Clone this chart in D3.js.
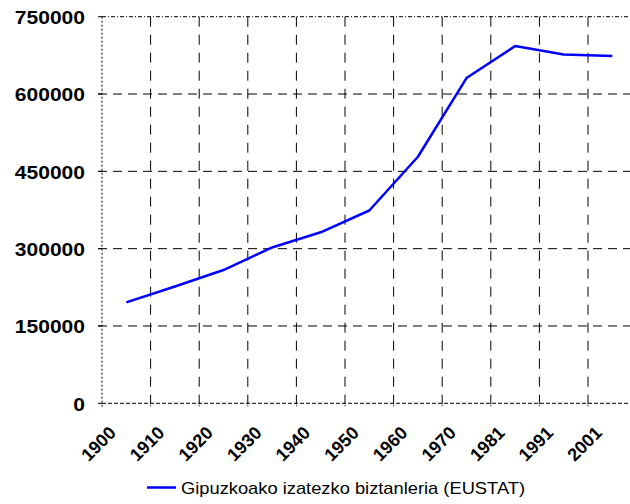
<!DOCTYPE html>
<html><head><meta charset="utf-8">
<script src="https://cdn.jsdelivr.net/npm/d3@7"></script>
<style>html,body{margin:0;padding:0;background:#fff;overflow:hidden}svg{display:block}</style>
</head><body>
<svg id="c" width="630" height="504"></svg>
<script>
const years = ["1900","1910","1920","1930","1940","1950","1960","1970","1981","1991","2001"];
const population = [195850, 226684, 258557, 302329, 331753, 374040, 478337, 631003, 692986, 676488, 673563];
const yTicks = [0, 150000, 300000, 450000, 600000, 750000];
const seriesName = "Gipuzkoako izatezko biztanleria (EUSTAT)";

const svg = d3.select("#c");
const pLeft = 102, pTop = 16.7, pBottom = 403.3, step = 48.6;
const x = d3.scaleBand().domain(years).range([pLeft, pLeft + step * years.length]).padding(0);
const y = d3.scaleLinear().domain([0, 750000]).range([pBottom, pTop]);
const cx = d => x(d) + x.bandwidth() / 2;

const g = svg.append("g");
// horizontal grid
g.selectAll("line.hg").data(yTicks.filter(t => t > 0 && t < 750000)).join("line")
  .attr("x1", pLeft - 4).attr("x2", 630).attr("y1", d => y(d)).attr("y2", d => y(d))
  .attr("stroke", "#000").attr("stroke-width", 1).attr("stroke-dasharray", "9,6");
// vertical grid
const vx = years.slice(1).map(d => x(d));
g.selectAll("line.vg").data(vx).join("line")
  .attr("x1", d => d).attr("x2", d => d).attr("y1", pTop).attr("y2", pBottom)
  .attr("stroke", "#000").attr("stroke-width", 1).attr("stroke-dasharray", "10,8");
// top border dash-dot
g.append("line").attr("x1", pLeft).attr("x2", 630).attr("y1", y(750000)).attr("y2", y(750000))
  .attr("stroke", "#000").attr("stroke-dasharray", "4,2,1,2");
// left axis dotted
g.append("line").attr("x1", pLeft).attr("x2", pLeft).attr("y1", pTop).attr("y2", pBottom + 4)
  .attr("stroke", "#000").attr("stroke-dasharray", "2,2");
// bottom axis
g.append("line").attr("x1", pLeft).attr("x2", 630).attr("y1", pBottom).attr("y2", pBottom)
  .attr("stroke", "#000").attr("stroke-dasharray", "4,2");
// bottom ticks
g.selectAll("line.bt").data(vx).join("line")
  .attr("x1", d => d).attr("x2", d => d).attr("y1", pBottom).attr("y2", pBottom + 4)
  .attr("stroke", "#000").attr("stroke-dasharray", "1,1");
// left ticks
g.selectAll("line.lt").data(yTicks).join("line")
  .attr("x1", pLeft - 4).attr("x2", pLeft).attr("y1", d => y(d)).attr("y2", d => y(d))
  .attr("stroke", "#000");

// y labels
svg.selectAll("text.yl").data(yTicks).join("text")
  .attr("x", 85).attr("y", d => y(d) + 1).attr("dy", "0.35em")
  .attr("text-anchor", "end")
  .attr("font-family", "Liberation Sans, Arial, sans-serif").attr("font-weight", "bold")
  .attr("font-size", 18)
  .attr("textLength", d => String(d).length * 11.7).attr("lengthAdjust", "spacingAndGlyphs")
  .text(d => d);

// x labels
svg.selectAll("text.xl").data(years).join("text")
  .attr("transform", d => `translate(${cx(d) - 9.3},434) rotate(-45)`)
  .attr("text-anchor", "end")
  .attr("font-family", "Liberation Sans, Arial, sans-serif").attr("font-weight", "bold")
  .attr("font-size", 18)
  .text(d => d);

// line
const line = d3.line().x((d, i) => cx(years[i])).y(d => y(d));
svg.append("path").datum(population).attr("d", line)
  .attr("fill", "none").attr("stroke", "#0000ff").attr("stroke-width", 2.5)
  .attr("stroke-linejoin", "round");

// legend
svg.append("line").attr("x1", 147).attr("x2", 176).attr("y1", 487.5).attr("y2", 487.5)
  .attr("stroke", "#0000ff").attr("stroke-width", 2.5);
svg.append("text").attr("x", 181).attr("y", 494)
  .attr("font-family", "Liberation Sans, Arial, sans-serif").attr("font-size", 17)
  .attr("textLength", 344).attr("lengthAdjust", "spacingAndGlyphs")
  .attr("fill", "#000").text(seriesName);
</script>
</body></html>
